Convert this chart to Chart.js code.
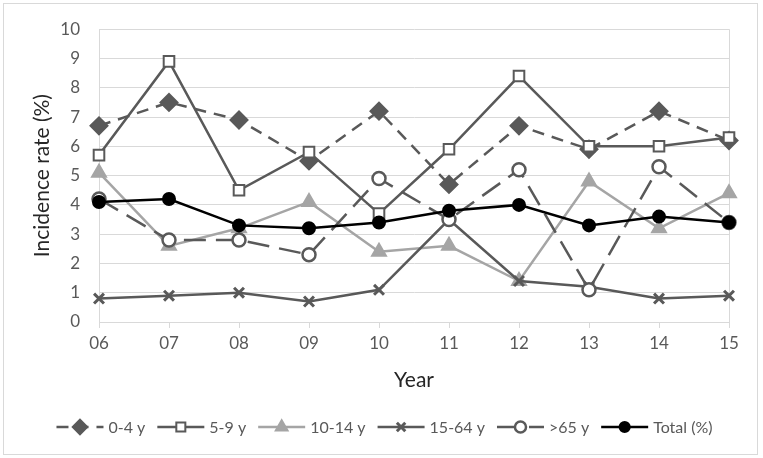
<!DOCTYPE html>
<html>
<head>
<meta charset="utf-8">
<script src="https://cdn.jsdelivr.net/npm/chart.js"></script>
<style>
  html, body { margin: 0; padding: 0; background: #fff; }
  canvas { display: block; }
</style>
</head>
<body>
<canvas id="incidence-chart" width="763" height="458"></canvas>
<script>
const years = ["06", "07", "08", "09", "10", "11", "12", "13", "14", "15"];
const age0to4 = [6.7, 7.5, 6.9, 5.5, 7.2, 4.7, 6.7, 5.9, 7.2, 6.2];
const age5to9 = [5.7, 8.9, 4.5, 5.8, 3.7, 5.9, 8.4, 6.0, 6.0, 6.3];
const age10to14 = [5.1, 2.6, 3.2, 4.1, 2.4, 2.6, 1.4, 4.8, 3.2, 4.4];
const age15to64 = [0.8, 0.9, 1.0, 0.7, 1.1, 3.5, 1.4, 1.2, 0.8, 0.9];
const ageOver65 = [4.2, 2.8, 2.8, 2.3, 4.9, 3.5, 5.2, 1.1, 5.3, 3.4];
const totalRate = [4.1, 4.2, 3.3, 3.2, 3.4, 3.8, 4.0, 3.3, 3.6, 3.4];

const DARK = "#595959";
const LIGHT = "#a5a5a5";
const FONT = "Lato, 'Open Sans', sans-serif";

// Excel-like legend: line segment with marker, then label
const lineLegend = {
  id: "lineLegend",
  afterDraw(chart) {
    const ctx = chart.ctx;
    const y = 427;
    const lineLen = 47;
    const gapText = 5;
    const gapItem = 12;
    ctx.save();
    ctx.font = "16px " + FONT;
    const items = chart.data.datasets.map((ds) => ({
      ds,
      w: lineLen + gapText + ctx.measureText(ds.label).width,
    }));
    const total = items.reduce((s, it) => s + it.w, 0) + gapItem * (items.length - 1);
    let x = (chart.width - total) / 2 + 3;
    items.forEach(({ ds, w }) => {
      ctx.save();
      ctx.strokeStyle = ds.borderColor;
      ctx.lineWidth = ds.borderWidth;
      ctx.setLineDash(ds.borderDash || []);
      ctx.beginPath();
      ctx.moveTo(x, y);
      ctx.lineTo(x + lineLen, y);
      ctx.stroke();
      ctx.setLineDash([]);
      ctx.fillStyle = ds.pointBackgroundColor;
      ctx.strokeStyle = ds.pointBorderColor;
      ctx.lineWidth = ds.pointBorderWidth;
      Chart.helpers.drawPoint(ctx, {
        pointStyle: ds.pointStyle,
        radius: ds.pointRadius * 0.85,
        rotation: 0,
        borderWidth: ds.pointBorderWidth,
      }, x + lineLen / 2, y);
      ctx.restore();
      ctx.fillStyle = DARK;
      ctx.textBaseline = "middle";
      ctx.textAlign = "left";
      ctx.fillText(ds.label, x + lineLen + gapText, y + 1);
      x += w + gapItem;
    });
    ctx.restore();
  },
};

// plot-area frame and outer chart border
const frames = {
  id: "frames",
  beforeDatasetsDraw(chart) {
    const { ctx, chartArea: a } = chart;
    ctx.save();
    ctx.strokeStyle = "#d9d9d9";
    ctx.lineWidth = 1;
    ctx.beginPath();
    ctx.moveTo(Math.round(a.right) + 0.5, a.top);
    ctx.lineTo(Math.round(a.right) + 0.5, a.bottom);
    ctx.stroke();
    ctx.restore();
  },
  afterDraw(chart) {
    const ctx = chart.ctx;
    ctx.save();
    ctx.strokeStyle = "#d9d9d9";
    ctx.lineWidth = 1;
    ctx.strokeRect(3.5, 3.5, 754, 451);
    ctx.restore();
  },
};

function series(label, data, color, style, extra) {
  return Object.assign({
    label,
    data,
    borderColor: color,
    borderWidth: 2.5,
    pointStyle: style,
    pointRadius: 6,
    pointHoverRadius: 6,
    pointBorderWidth: 2,
    pointBackgroundColor: color,
    pointBorderColor: color,
    tension: 0,
    fill: false,
  }, extra);
}

new Chart(document.getElementById("incidence-chart"), {
  type: "line",
  data: {
    labels: years,
    datasets: [
      series("0-4 y", age0to4, DARK, "rectRot", { borderDash: [12, 8], pointRadius: 8.5, order: 6 }),
      series("5-9 y", age5to9, DARK, "rect", { pointBackgroundColor: "#fff", pointRadius: 7.5, order: 5 }),
      series("10-14 y", age10to14, LIGHT, "triangle", { pointRadius: 8, order: 4 }),
      series("15-64 y", age15to64, DARK, "crossRot", { pointRadius: 7, pointBorderWidth: 3, order: 3 }),
      series(">65 y", ageOver65, DARK, "circle", { borderDash: [22, 10], pointBackgroundColor: "#fff", pointRadius: 6.5, pointBorderWidth: 2.5, order: 2 }),
      series("Total (%)", totalRate, "#000", "circle", { pointRadius: 6, order: 1 }),
    ],
  },
  options: {
    responsive: false,
    animation: false,
    devicePixelRatio: 1,
    layout: {
      padding: { top: 25, right: 34, bottom: 0, left: 0 },
    },
    plugins: {
      legend: { display: false },
      tooltip: { enabled: false },
    },
    scales: {
      x: {
        offset: false,
        grid: {
          drawOnChartArea: false,
          drawTicks: true,
          tickLength: 6,
          color: "#d9d9d9",
        },
        border: { color: "#d9d9d9", width: 1 },
        ticks: {
          color: DARK,
          font: { family: FONT, size: 17 },
          padding: 5,
          maxRotation: 0,
        },
        title: {
          display: true,
          text: "Year",
          color: "#262626",
          font: { family: FONT, size: 21 },
          padding: { top: 0, bottom: 65 },
        },
        afterFit(scale) {
          scale.height = 136;
        },
      },
      y: {
        min: 0,
        max: 10,
        grid: {
          color: "#d9d9d9",
          drawTicks: false,
        },
        border: { color: "#d9d9d9", width: 1 },
        ticks: {
          stepSize: 1,
          color: DARK,
          font: { family: FONT, size: 17 },
          padding: 19,
        },
        title: {
          display: true,
          text: "Incidence rate (%)",
          color: "#262626",
          font: { family: FONT, size: 21 },
          padding: { top: 30, bottom: 0 },
        },
        afterFit(scale) {
          scale.width = 99;
        },
      },
    },
  },
  plugins: [frames, lineLegend],
});
</script>
</body>
</html>
